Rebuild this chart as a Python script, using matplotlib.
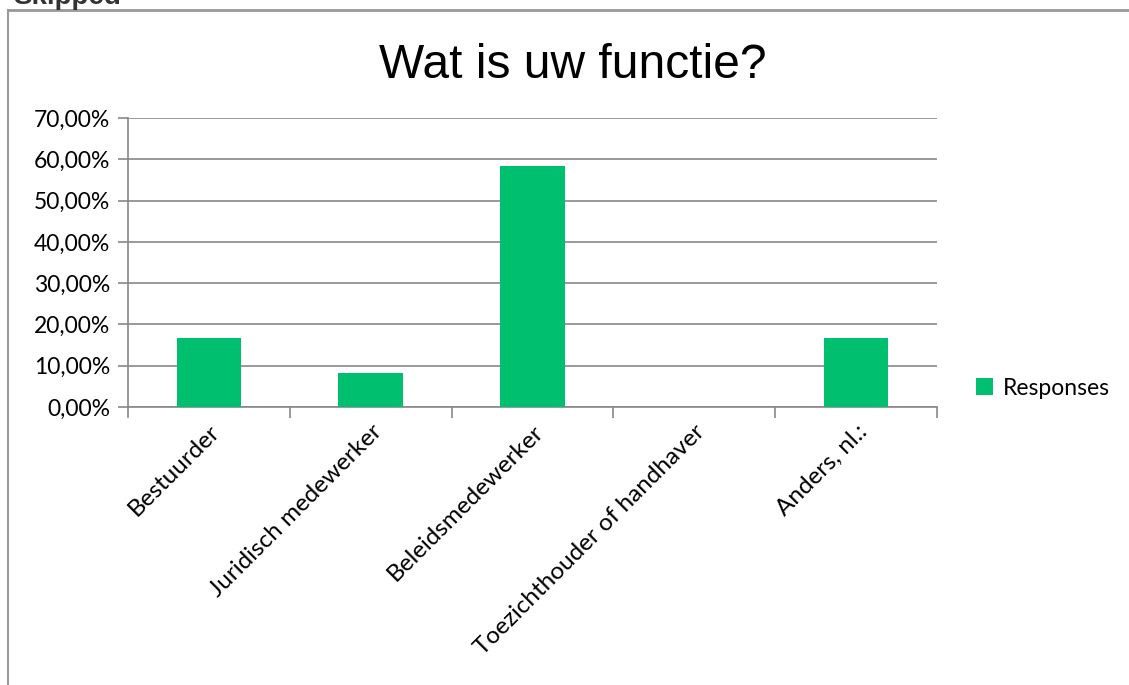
import matplotlib.pyplot as plt
from matplotlib.lines import Line2D
from matplotlib.ticker import FuncFormatter, MultipleLocator
import numpy as np

categories = ["Bestuurder", "Juridisch medewerker", "Beleidsmedewerker",
              "Toezichthouder of handhaver", "Anders, nl.:"]
responses = [16.67, 8.33, 58.33, 0.0, 16.67]

green = "#00BF6F"
grid_gray = "#888888"

fig = plt.figure(figsize=(11.29, 6.85), dpi=100)
ax = fig.add_axes([128 / 1129, 1 - 407 / 685, (937 - 128) / 1129, (407 - 118) / 685])

x = np.arange(len(categories))
ax.bar(x, responses, width=0.4, color=green, label="Responses", zorder=3)

ax.set_xlim(-0.5, len(categories) - 0.5)
ax.set_ylim(0, 70)
ax.yaxis.set_major_locator(MultipleLocator(10))
ax.yaxis.set_major_formatter(FuncFormatter(lambda v, p: f"{v:.2f}%".replace(".", ",")))
ax.grid(axis="y", color=grid_gray, linewidth=1.2, zorder=0)

# category labels sit between boundary ticks
ax.set_xticks(np.arange(len(categories) + 1) - 0.5)
ax.set_xticklabels([])
ax.set_xticks(x, minor=True)
ax.set_xticklabels(categories, minor=True, rotation=45, ha="right",
                   rotation_mode="anchor", fontsize=17.5, family="Lato")
ax.tick_params(axis="x", which="minor", length=0, pad=10)
ax.tick_params(axis="x", which="major", length=8, color=grid_gray, width=1.2)
ax.tick_params(axis="y", length=7, color=grid_gray, width=1.2, labelsize=16.5, pad=6)
for lab in ax.get_yticklabels():
    lab.set_family("Lato")

for s in ["top", "right"]:
    ax.spines[s].set_visible(False)
for s in ["left", "bottom"]:
    ax.spines[s].set_color(grid_gray)
    ax.spines[s].set_linewidth(1.2)

leg = ax.legend(loc="center left", bbox_to_anchor=(1.023, 0.065), frameon=False,
                prop={"family": "Lato", "size": 16.5}, handlelength=0.75,
                handleheight=0.75, handletextpad=0.4)

fig.text(573 / 1129, 1 - 65 / 685, "Wat is uw functie?", ha="center", va="center",
         fontsize=34.5, family="Liberation Sans")

# outer frame of the screenshot
fig.add_artist(Line2D([8 / 1129, 8 / 1129], [0, 1 - 10 / 685], color="#999999", lw=1.5))
fig.add_artist(Line2D([8 / 1129, 1], [1 - 10 / 685, 1 - 10 / 685], color="#999999", lw=2))
fig.text(13 / 1129, 1 - 4 / 685, "Skipped", ha="left", va="baseline", fontsize=20,
         fontweight="bold", family="Liberation Sans", color="#333333")

fig.savefig("out.png", dpi=100)
